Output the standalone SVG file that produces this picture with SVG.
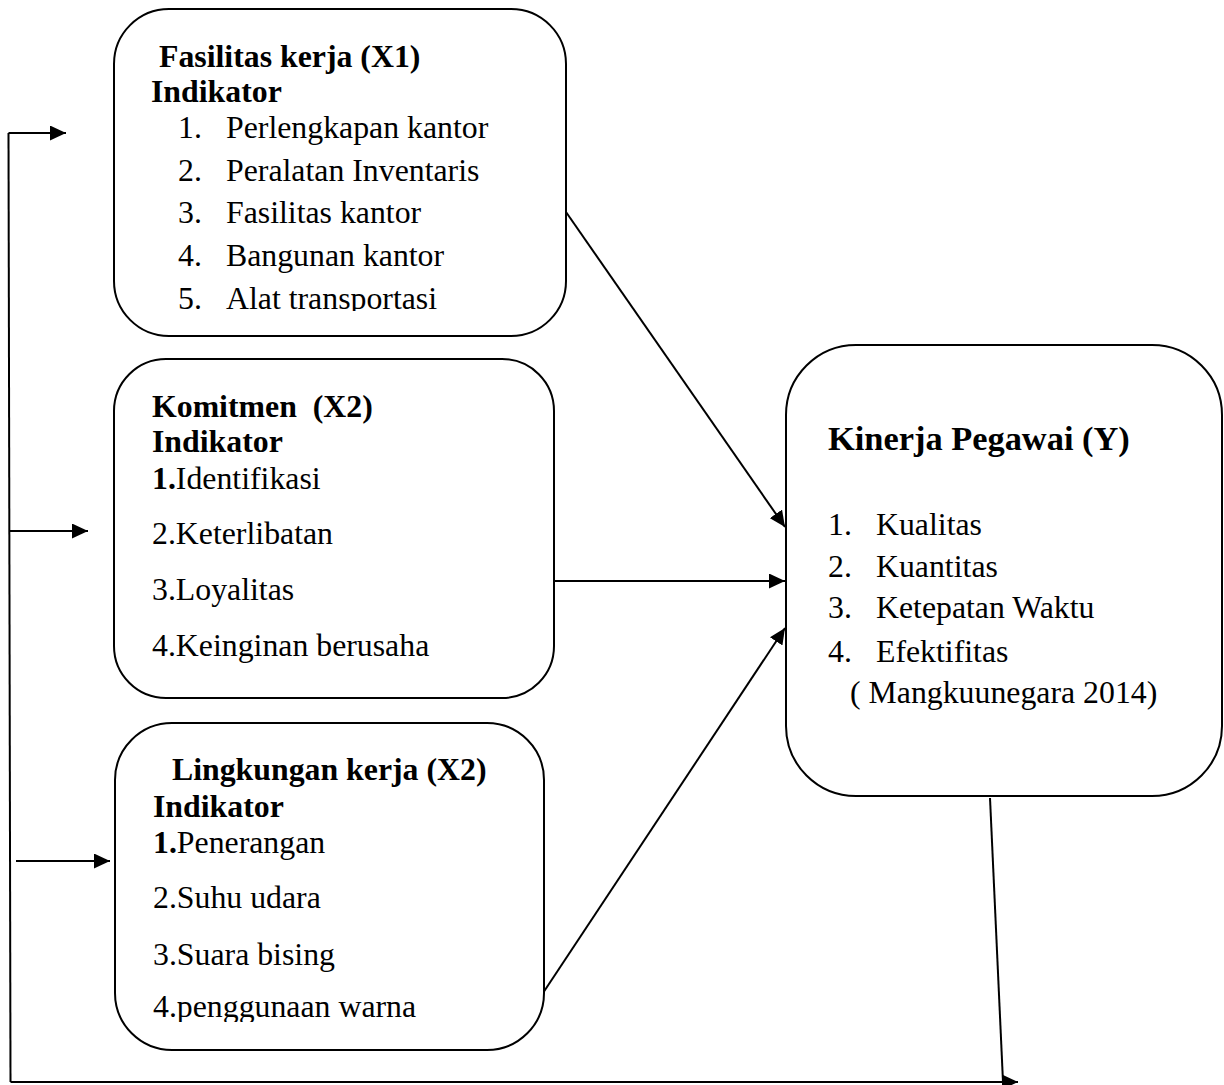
<svg xmlns="http://www.w3.org/2000/svg" width="1224" height="1085" viewBox="0 0 1224 1085">
<style>
.box{fill:#fff;stroke:#000;stroke-width:2}
.ln{fill:none;stroke:#000;stroke-width:2}
text{font-family:"Liberation Serif","Times New Roman",serif;font-size:31.8px;fill:#000}
.b{font-weight:bold}
.big{font-size:34.4px;font-weight:bold}
</style>
<defs>
<marker id="ah" markerUnits="userSpaceOnUse" markerWidth="16" markerHeight="15" refX="16" refY="7.5" orient="auto">
<path d="M0,0 L16,7.5 L0,15 Z" fill="#000"/>
</marker>
<clipPath id="c1"><rect x="114" y="9" width="452" height="302"/></clipPath>
<clipPath id="c3"><rect x="114" y="723" width="430" height="299"/></clipPath>
</defs>
<g id="connectors">
<path class="ln" d="M8.5,133 H66" marker-end="url(#ah)"/>
<path class="ln" d="M8.5,133 L10.5,1082"/>
<path class="ln" d="M10.5,1082 H1018" marker-end="url(#ah)"/>
<path class="ln" d="M9.5,531 H88" marker-end="url(#ah)"/>
<path class="ln" d="M16,861 H110" marker-end="url(#ah)"/>
<path class="ln" d="M566,212 L785,527" marker-end="url(#ah)"/>
<path class="ln" d="M554,581 H785" marker-end="url(#ah)"/>
<path class="ln" d="M543,993 L785,628" marker-end="url(#ah)"/>
<path class="ln" d="M990,798 L1003,1082"/>
</g>
<g id="node-x1">
<rect class="box" x="114" y="9" width="452" height="327" rx="55" ry="55"/>
<g clip-path="url(#c1)">
<text class="b" x="159" y="67">Fasilitas kerja (X1)</text>
<text class="b" x="151" y="102">Indikator</text>
<text x="178" y="138">1.</text><text x="226" y="138">Perlengkapan kantor</text>
<text x="178" y="181">2.</text><text x="226" y="181">Peralatan Inventaris</text>
<text x="178" y="223">3.</text><text x="226" y="223">Fasilitas kantor</text>
<text x="178" y="266">4.</text><text x="226" y="266">Bangunan kantor</text>
<text x="178" y="309">5.</text><text x="226" y="309">Alat transportasi</text>
</g>
</g>
<g id="node-x2">
<rect class="box" x="114" y="359" width="440" height="339" rx="52" ry="52"/>
<text class="b" x="152" y="417" xml:space="preserve">Komitmen  (X2)</text>
<text class="b" x="152" y="452">Indikator</text>
<text x="152" y="489"><tspan class="b">1.</tspan>Identifikasi</text>
<text x="152" y="544">2.Keterlibatan</text>
<text x="152" y="600">3.Loyalitas</text>
<text x="152" y="656">4.Keinginan berusaha</text>
</g>
<g id="node-x3">
<rect class="box" x="115" y="723" width="429" height="327" rx="57" ry="57"/>
<g clip-path="url(#c3)">
<text class="b" x="172" y="780">Lingkungan kerja (X2)</text>
<text class="b" x="153" y="817">Indikator</text>
<text x="153" y="853"><tspan class="b">1.</tspan>Penerangan</text>
<text x="153" y="908">2.Suhu udara</text>
<text x="153" y="965">3.Suara bising</text>
<text x="153" y="1017">4.penggunaan warna</text>
</g>
</g>
<g id="node-y">
<rect class="box" x="786" y="345" width="436" height="451" rx="70" ry="70"/>
<text class="big" x="828" y="450">Kinerja Pegawai (Y)</text>
<text x="828" y="535">1.</text><text x="876" y="535">Kualitas</text>
<text x="828" y="577">2.</text><text x="876" y="577">Kuantitas</text>
<text x="828" y="618">3.</text><text x="876" y="618">Ketepatan Waktu</text>
<text x="828" y="662">4.</text><text x="876" y="662">Efektifitas</text>
<text x="850" y="703">( Mangkuunegara 2014)</text>
</g>
</svg>
